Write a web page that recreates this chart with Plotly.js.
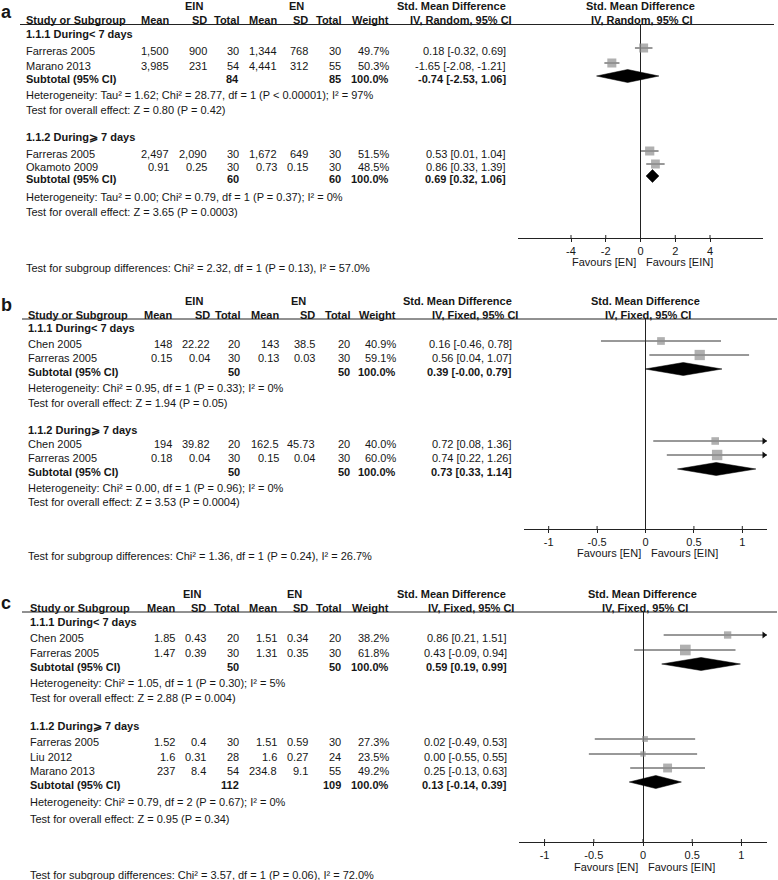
<!DOCTYPE html>
<html><head><meta charset="utf-8">
<script src="https://cdn.plot.ly/plotly-3.0.1.min.js"></script>
<style>html,body{margin:0;padding:0;background:#fff}#chart{width:778px;height:880px}</style>
</head><body><div id="chart"></div>
<script>
// ---------------- DATA ----------------
const groupTitles = ['1.1.1 During&lt; 7 days', '1.1.2 During⩾ 7 days'];

// Panel a
const aStudy   = ['Farreras 2005', 'Marano 2013', 'Farreras 2005', 'Okamoto 2009'];
const aGroup   = [0, 0, 1, 1];
const aEinMean = [1500, 3985, 2497, 0.91];
const aEinSD   = [900, 231, 2090, 0.25];
const aEinN    = [30, 54, 30, 30];
const aEnMean  = [1344, 4441, 1672, 0.73];
const aEnSD    = [768, 312, 649, 0.15];
const aEnN     = [30, 55, 30, 30];
const aWeight  = [49.7, 50.3, 51.5, 48.5];
const aSMD     = [0.18, -1.65, 0.53, 0.86];
const aLo      = [-0.32, -2.08, 0.01, 0.33];
const aHi      = [0.69, -1.21, 1.04, 1.39];
const aSubEinN = [84, 60];
const aSubEnN  = [85, 60];
const aSubSMD  = [-0.74, 0.69];
const aSubLo   = [-2.53, 0.32];
const aSubHi   = [1.06, 1.06];
const aHet     = ['Heterogeneity: Tau² = 1.62; Chi² = 28.77, df = 1 (P &lt; 0.00001); I² = 97%',
                  'Heterogeneity: Tau² = 0.00; Chi² = 0.79, df = 1 (P = 0.37); I² = 0%'];
const aOverall = ['Test for overall effect: Z = 0.80 (P = 0.42)',
                  'Test for overall effect: Z = 3.65 (P = 0.0003)'];
const aSubgroupTest = 'Test for subgroup differences: Chi² = 2.32, df = 1 (P = 0.13), I² = 57.0%';
const aMethod  = 'IV, Random, 95% CI';
const aTicks   = [-4, -2, 0, 2, 4];

// Panel b
const bStudy   = ['Chen 2005', 'Farreras 2005', 'Chen 2005', 'Farreras 2005'];
const bGroup   = [0, 0, 1, 1];
const bEinMean = [148, 0.15, 194, 0.18];
const bEinSD   = [22.22, 0.04, 39.82, 0.04];
const bEinN    = [20, 30, 20, 30];
const bEnMean  = [143, 0.13, 162.5, 0.15];
const bEnSD    = [38.5, 0.03, 45.73, 0.04];
const bEnN     = [20, 30, 20, 30];
const bWeight  = [40.9, 59.1, 40.0, 60.0];
const bSMD     = [0.16, 0.56, 0.72, 0.74];
const bLo      = [-0.46, 0.04, 0.08, 0.22];
const bHi      = [0.78, 1.07, 1.36, 1.26];
const bSubEinN = [50, 50];
const bSubEnN  = [50, 50];
const bSubSMD  = [0.39, 0.73];
const bSubLo   = [-0.004, 0.33];
const bSubHi   = [0.79, 1.14];
const bHet     = ['Heterogeneity: Chi² = 0.95, df = 1 (P = 0.33); I² = 0%',
                  'Heterogeneity: Chi² = 0.00, df = 1 (P = 0.96); I² = 0%'];
const bOverall = ['Test for overall effect: Z = 1.94 (P = 0.05)',
                  'Test for overall effect: Z = 3.53 (P = 0.0004)'];
const bSubgroupTest = 'Test for subgroup differences: Chi² = 1.36, df = 1 (P = 0.24), I² = 26.7%';
const bMethod  = 'IV, Fixed, 95% CI';
const bTicks   = [-1, -0.5, 0, 0.5, 1];

// Panel c
const cStudy   = ['Chen 2005', 'Farreras 2005', 'Farreras 2005', 'Liu 2012', 'Marano 2013'];
const cGroup   = [0, 0, 1, 1, 1];
const cEinMean = [1.85, 1.47, 1.52, 1.6, 237];
const cEinSD   = [0.43, 0.39, 0.4, 0.31, 8.4];
const cEinN    = [20, 30, 30, 28, 54];
const cEnMean  = [1.51, 1.31, 1.51, 1.6, 234.8];
const cEnSD    = [0.34, 0.35, 0.59, 0.27, 9.1];
const cEnN     = [20, 30, 30, 24, 55];
const cWeight  = [38.2, 61.8, 27.3, 23.5, 49.2];
const cSMD     = [0.86, 0.43, 0.02, 0.00, 0.25];
const cLo      = [0.21, -0.09, -0.49, -0.55, -0.13];
const cHi      = [1.51, 0.94, 0.53, 0.55, 0.63];
const cSubEinN = [50, 112];
const cSubEnN  = [50, 109];
const cSubSMD  = [0.59, 0.13];
const cSubLo   = [0.19, -0.14];
const cSubHi   = [0.99, 0.39];
const cHet     = ['Heterogeneity: Chi² = 1.05, df = 1 (P = 0.30); I² = 5%',
                  'Heterogeneity: Chi² = 0.79, df = 2 (P = 0.67); I² = 0%'];
const cOverall = ['Test for overall effect: Z = 2.88 (P = 0.004)',
                  'Test for overall effect: Z = 0.95 (P = 0.34)'];
const cSubgroupTest = 'Test for subgroup differences: Chi² = 3.57, df = 1 (P = 0.06), I² = 72.0%';
const cMethod  = 'IV, Fixed, 95% CI';
const cTicks   = [-1, -0.5, 0, 0.5, 1];

const colHeads = ['Mean', 'SD', 'Total', 'Mean', 'SD', 'Total', 'Weight'];

// ---------------- LAYOUT (positions in pixels) ----------------
const W = 778, H = 880;
const px = x => x / W, py = y => 1 - y / H;
const FONT = 'Liberation Sans, Arial, Helvetica, sans-serif';
const TXT = '#161616';
const fmtN = v => v.toLocaleString('en-US', {maximumFractionDigits: 3});
const f2 = v => v.toFixed(2);
const ciTxt = (e, l, h) => f2(e) + ' [' + f2(l) + ', ' + f2(h) + ']';

const panels = [
  {label: 'a', s: '', study: aStudy, group: aGroup, einMean: aEinMean, einSD: aEinSD, einN: aEinN,
   enMean: aEnMean, enSD: aEnSD, enN: aEnN, weight: aWeight, smd: aSMD, lo: aLo, hi: aHi,
   subEinN: aSubEinN, subEnN: aSubEnN, subSMD: aSubSMD, subLo: aSubLo, subHi: aSubHi,
   het: aHet, ovr: aOverall, sgt: aSubgroupTest, method: aMethod, ticks: aTicks,
   L: {labelX: 6, labelY: 12, row1: 6, row2: 20, lineY: 24.5, lineX: [20, 774],
       titles: [34, 137], rows: [51, 66, 154, 167], subs: [79, 179], het: [95, 197], ovr: [110, 212],
       axisY: 238, fav: 262, sgt: 268, x0: 518, x1: 763, range: [-7.05, 7.05],
       studyX: 27, cols: [171, 209, 241, 279, 310, 343, 391], eff: 508, ein: 194, en: 296,
       smd: 451, meth: 461, smdR: 640, methR: 642}},
  {label: 'b', s: '2', study: bStudy, group: bGroup, einMean: bEinMean, einSD: bEinSD, einN: bEinN,
   enMean: bEnMean, enSD: bEnSD, enN: bEnN, weight: bWeight, smd: bSMD, lo: bLo, hi: bHi,
   subEinN: bSubEinN, subEnN: bSubEnN, subSMD: bSubSMD, subLo: bSubLo, subHi: bSubHi,
   het: bHet, ovr: bOverall, sgt: bSubgroupTest, method: bMethod, ticks: bTicks,
   L: {labelX: 6, labelY: 305, row1: 301, row2: 315, lineY: 319, lineX: [22, 777],
       titles: [328, 430], rows: [344, 358, 444, 458], subs: [372, 472], het: [388, 488], ovr: [403, 502],
       axisY: 529, fav: 553, sgt: 556, x0: 524, x1: 767, range: [-1.255, 1.255],
       studyX: 29, cols: [174, 212, 242, 281, 317, 352, 398], eff: 514, ein: 194, en: 298,
       smd: 457, meth: 475, smdR: 645, methR: 648}},
  {label: 'c', s: '3', study: cStudy, group: cGroup, einMean: cEinMean, einSD: cEinSD, einN: cEinN,
   enMean: cEnMean, enSD: cEnSD, enN: cEnN, weight: cWeight, smd: cSMD, lo: cLo, hi: cHi,
   subEinN: cSubEinN, subEnN: cSubEnN, subSMD: cSubSMD, subLo: cSubLo, subHi: cSubHi,
   het: cHet, ovr: cOverall, sgt: cSubgroupTest, method: cMethod, ticks: cTicks,
   L: {labelX: 6, labelY: 603, row1: 594, row2: 608, lineY: 612, lineX: [22, 777],
       titles: [622, 726], rows: [638, 653, 742, 757, 771], subs: [667, 785], het: [683, 802], ovr: [698, 819],
       axisY: 842, fav: 867, sgt: 875, x0: 519, x1: 767, range: [-1.26, 1.26],
       studyX: 31, cols: [177, 208, 241, 279, 310, 343, 391], eff: 509, ein: 192, en: 294,
       smd: 451, meth: 471, smdR: 642, methR: 645}}
];

const traces = [], annotations = [], shapes = [];
const layout = {
  width: W, height: H, margin: {l: 0, r: 0, t: 0, b: 0},
  paper_bgcolor: '#fff', plot_bgcolor: 'rgba(0,0,0,0)', showlegend: false,
  font: {family: FONT, size: 11, color: TXT},
  annotations, shapes
};

function ann(text, x, y, anchor, opts) {
  opts = opts || {};
  annotations.push({
    text: opts.bold ? '<b>' + text + '</b>' : text,
    x: x, y: y, xref: opts.xref || 'paper', yref: 'paper',
    xanchor: anchor, yanchor: 'middle', showarrow: false,
    xshift: opts.xshift !== undefined ? opts.xshift : (anchor === 'left' ? -3 : 0),
    font: {family: FONT, size: opts.size || 11, color: TXT}
  });
}

panels.forEach(p => {
  const L = p.L, s = p.s;
  const xa = 'x' + s, ya = 'y' + s;
  const ppu = (L.x1 - L.x0) / (L.range[1] - L.range[0]);

  // axes
  layout['xaxis' + s] = {
    domain: [px(L.x0), px(L.x1)], range: L.range, anchor: ya,
    showline: true, linecolor: '#222', linewidth: 1,
    ticks: 'outside', ticklen: 3, tickwidth: 1, tickcolor: '#222',
    tickvals: p.ticks, ticktext: p.ticks.map(String),
    tickfont: {family: FONT, size: 11, color: TXT},
    zeroline: true, zerolinecolor: '#222', zerolinewidth: 1,
    showgrid: false, fixedrange: true
  };
  layout['yaxis' + s] = {
    domain: [py(L.axisY), py(L.lineY)], range: [L.axisY, L.lineY],
    visible: false, showgrid: false, zeroline: false, fixedrange: true
  };
  // upper half of crossing ticks
  p.ticks.forEach(t => shapes.push({type: 'line', xref: xa, yref: 'paper', x0: t, x1: t,
    y0: py(L.axisY), y1: py(L.axisY - 3), line: {color: '#222', width: 1}}));
  // header line
  shapes.push({type: 'line', xref: 'paper', yref: 'paper', x0: px(L.lineX[0]), x1: px(L.lineX[1]),
    y0: py(L.lineY), y1: py(L.lineY), line: {color: '#222', width: 1}});

  // panel label
  ann(p.label, px(L.labelX), py(L.labelY), 'center', {bold: true, size: 18});

  // headers
  ann('EIN', px(L.ein), py(L.row1), 'center', {bold: true});
  ann('EN', px(L.en), py(L.row1), 'center', {bold: true});
  ann('Std. Mean Difference', px(L.smd), py(L.row1), 'center', {bold: true});
  ann('Std. Mean Difference', px(L.smdR), py(L.row1), 'center', {bold: true});
  ann('Study or Subgroup', px(L.studyX), py(L.row2), 'left', {bold: true});
  colHeads.forEach((h, k) => ann(h, px(L.cols[k]), py(L.row2), 'right', {bold: true}));
  ann(p.method, px(L.meth), py(L.row2), 'center', {bold: true});
  ann(p.method, px(L.methR), py(L.row2), 'center', {bold: true});

  // study rows
  const ciX = [], ciY = [], sqX = [], sqY = [], sqS = [], arX = [], arY = [];
  p.study.forEach((name, i) => {
    const y = L.rows[i];
    ann(name, px(L.studyX), py(y), 'left');
    const vals = [fmtN(p.einMean[i]), fmtN(p.einSD[i]), String(p.einN[i]),
                  fmtN(p.enMean[i]), fmtN(p.enSD[i]), String(p.enN[i]), p.weight[i].toFixed(1) + '%'];
    vals.forEach((v, k) => ann(v, px(L.cols[k]), py(y), 'right'));
    ann(ciTxt(p.smd[i], p.lo[i], p.hi[i]), px(L.eff), py(y), 'right');
    const my = y - 3;
    ciX.push(p.lo[i], p.hi[i], null); ciY.push(my, my, null);
    sqX.push(p.smd[i]); sqY.push(my); sqS.push(2 + 14 * p.weight[i] / 100);
    if (p.hi[i] > L.range[1]) { arX.push(L.range[1] - 3 / ppu); arY.push(my); }
  });
  traces.push({type: 'scatter', mode: 'lines', x: ciX, y: ciY, xaxis: xa, yaxis: ya,
    line: {color: '#333', width: 1}, hoverinfo: 'skip'});
  traces.push({type: 'scatter', mode: 'markers', x: sqX, y: sqY, xaxis: xa, yaxis: ya,
    marker: {symbol: 'square', size: sqS, color: '#8f8f8f', line: {width: 0}}, hoverinfo: 'skip'});
  if (arX.length) traces.push({type: 'scatter', mode: 'markers', x: arX, y: arY, xaxis: xa, yaxis: ya,
    marker: {symbol: 'triangle-right', size: 6, color: '#111', line: {width: 0}}, hoverinfo: 'skip', cliponaxis: false});

  // groups
  [0, 1].forEach(g => {
    ann(groupTitles[g], px(L.studyX), py(L.titles[g]), 'left', {bold: true});
    const y = L.subs[g];
    ann('Subtotal (95% CI)', px(L.studyX), py(y), 'left', {bold: true});
    ann(String(p.subEinN[g]), px(L.cols[2]), py(y), 'right', {bold: true});
    ann(String(p.subEnN[g]), px(L.cols[5]), py(y), 'right', {bold: true});
    ann('100.0%', px(L.cols[6]), py(y), 'right', {bold: true});
    ann(ciTxt(p.subSMD[g], p.subLo[g], p.subHi[g]), px(L.eff), py(y), 'right', {bold: true});
    ann(p.het[g], px(L.studyX), py(L.het[g]), 'left');
    ann(p.ovr[g], px(L.studyX), py(L.ovr[g]), 'left');
    const dy = y - 3, h = 6.5;
    traces.push({type: 'scatter', mode: 'lines', xaxis: xa, yaxis: ya,
      x: [p.subLo[g], p.subSMD[g], p.subHi[g], p.subSMD[g], p.subLo[g]],
      y: [dy, dy - h, dy, dy + h, dy],
      fill: 'toself', fillcolor: '#000', line: {color: '#000', width: 0.5}, hoverinfo: 'skip'});
  });

  // favours + subgroup test
  ann('Favours [EN]', 0, py(L.fav), 'right', {xref: xa, xshift: -3});
  ann('Favours [EIN]', 0, py(L.fav), 'left', {xref: xa, xshift: 3});
  ann(p.sgt, px(L.studyX), py(L.sgt), 'left');
});

Plotly.newPlot('chart', traces, layout, {staticPlot: true, displayModeBar: false});
</script>
</body></html>
